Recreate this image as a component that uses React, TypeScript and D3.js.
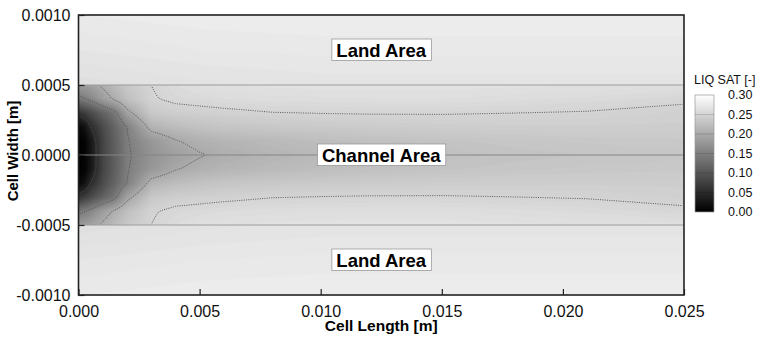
import { useEffect, useRef } from "react";
import * as d3 from "d3";

// liquid saturation, channel half (mirrored about y = 0)
const xKnots = [0, 0.00025, 0.0005, 0.001, 0.0015, 0.002, 0.003, 0.004, 0.005, 0.006, 0.008, 0.01, 0.012, 0.015, 0.018, 0.021, 0.025];
const yKnots = [0, 0.0001, 0.0002, 0.0003, 0.0004, 0.0005];
const channelSat = [
  [0.0, 0.004, 0.025, 0.08, 0.112, 0.145, 0.172, 0.188, 0.198, 0.205, 0.213, 0.218, 0.222, 0.226, 0.229, 0.231, 0.233],
  [0.0, 0.005, 0.026, 0.081, 0.113, 0.147, 0.178, 0.198, 0.208, 0.213, 0.219, 0.223, 0.226, 0.23, 0.233, 0.235, 0.236],
  [0.008, 0.02, 0.05, 0.088, 0.119, 0.15, 0.21, 0.222, 0.228, 0.232, 0.235, 0.237, 0.239, 0.241, 0.242, 0.242, 0.242],
  [0.06, 0.072, 0.088, 0.115, 0.14, 0.19, 0.235, 0.242, 0.244, 0.246, 0.2495, 0.2505, 0.251, 0.251, 0.25, 0.249, 0.245],
  [0.14, 0.148, 0.158, 0.185, 0.205, 0.225, 0.248, 0.254, 0.256, 0.258, 0.26, 0.26, 0.261, 0.261, 0.259, 0.257, 0.253],
  [0.18, 0.184, 0.19, 0.205, 0.22, 0.235, 0.25, 0.258, 0.262, 0.264, 0.265, 0.266, 0.266, 0.266, 0.265, 0.264, 0.262],
];

// land area (|y| from channel edge to cell edge)
const landXKnots = [0, 0.005, 0.01, 0.015, 0.02, 0.025];
const landYKnots = [0.0005, 0.00075, 0.001];
const landSat = [
  [0.262, 0.266, 0.268, 0.268, 0.268, 0.268],
  [0.27, 0.273, 0.274, 0.274, 0.274, 0.274],
  [0.276, 0.278, 0.279, 0.279, 0.279, 0.279],
];

const lineLevels = [0.05, 0.1, 0.15, 0.2, 0.25];
const xTicks = [0, 0.005, 0.01, 0.015, 0.02, 0.025];
const yTicks = [-0.001, -0.0005, 0, 0.0005, 0.001];
const legendTicks = [0, 0.05, 0.1, 0.15, 0.2, 0.25, 0.3];
const regionLabels = [
  { text: "Land Area", x: 0.0125, y: 0.00075 },
  { text: "Channel Area", x: 0.0125, y: 0 },
  { text: "Land Area", x: 0.0125, y: -0.00075 },
];

const FONT = "'Liberation Sans', Arial, sans-serif";

function sampler(xs: number[], ys: number[], grid: number[][]) {
  const ix = d3.scaleLinear().domain(xs).range(d3.range(xs.length)).clamp(true);
  const iy = d3.scaleLinear().domain(ys).range(d3.range(ys.length)).clamp(true);
  return (x: number, y: number) => {
    const fx = ix(x);
    const fy = iy(Math.abs(y));
    const i = Math.min(Math.floor(fx), xs.length - 2);
    const j = Math.min(Math.floor(fy), ys.length - 2);
    const tx = fx - i;
    const ty = fy - j;
    const a = grid[j][i] * (1 - tx) + grid[j][i + 1] * tx;
    const b = grid[j + 1][i] * (1 - tx) + grid[j + 1][i + 1] * tx;
    return a * (1 - ty) + b * ty;
  };
}

const App = () => {
  const svgRef = useRef<SVGSVGElement>(null);

  useEffect(() => {
    document.body.style.margin = "0";
    const svg = d3.select(svgRef.current);
    svg.selectAll("*").remove();

    const x = d3.scaleLinear().domain([0, 0.025]).range([78.5, 684]);
    const y = d3.scaleLinear().domain([-0.001, 0.001]).range([295, 15]);
    const gray = d3.scaleLinear<string>().domain([0, 0.3]).range(["#000", "#fff"]).clamp(true);
    const defs = svg.append("defs");

    const step = 0.003;
    const fillLevels = d3.range(step, 0.3, step);

    function drawField(id: string, f: (a: number, b: number) => number, y0: number, y1: number, withLines: boolean) {
      const left = x(0), right = x(0.025), top = y(y1), bottom = y(y0);
      const n = Math.round((right - left) / 2);
      const m = Math.round((bottom - top) / 2);
      const sx = (right - left) / n, sy = (bottom - top) / m;
      const values: number[] = new Array(n * m);
      for (let j = 0; j < m; j++) {
        for (let i = 0; i < n; i++) {
          values[j * n + i] = f(x.invert(left + (i + 0.5) * sx), y.invert(top + (j + 0.5) * sy));
        }
      }
      const path = d3.geoPath(
        d3.geoTransform({
          point(px: number, py: number) {
            this.stream.point(left + px * sx, top + py * sy);
          },
        })
      );

      defs.append("clipPath").attr("id", id)
        .append("rect").attr("x", left).attr("y", top).attr("width", right - left).attr("height", bottom - top);

      const g = svg.append("g").attr("clip-path", `url(#${id})`);
      g.append("rect")
        .attr("x", left).attr("y", top).attr("width", right - left).attr("height", bottom - top)
        .attr("fill", gray(d3.min(values) as number));
      g.selectAll("path.fill")
        .data(d3.contours().size([n, m]).thresholds(fillLevels)(values))
        .join("path")
        .attr("class", "fill")
        .attr("d", path as any)
        .attr("fill", (d) => gray(d.value + step / 2));

      if (withLines) {
        defs.append("clipPath").attr("id", id + "-in")
          .append("rect").attr("x", left + 1.5).attr("y", top + 1.5)
          .attr("width", right - left - 3).attr("height", bottom - top - 3);
        svg.append("g").attr("clip-path", `url(#${id}-in)`)
          .selectAll("path")
          .data(d3.contours().size([n, m]).thresholds(lineLevels)(values))
          .join("path")
          .attr("d", path as any)
          .attr("fill", "none")
          .attr("stroke", "#555")
          .attr("stroke-width", 1)
          .attr("stroke-dasharray", "1,1.3");
      }
    }

    const channel = sampler(xKnots, yKnots, channelSat);
    const land = sampler(landXKnots, landYKnots, landSat);
    drawField("land-top", land, 0.0005, 0.001, false);
    drawField("land-bottom", land, -0.001, -0.0005, false);
    drawField("channel", channel, -0.0005, 0.0005, true);

    // channel edges and center line
    svg.selectAll("line.edge")
      .data([-0.0005, 0.0005, 0])
      .join("line")
      .attr("x1", x(0)).attr("x2", x(0.025))
      .attr("y1", (d) => y(d)).attr("y2", (d) => y(d))
      .attr("stroke", (d) => (d === 0 ? "#858585" : "#9c9c9c"))
      .attr("stroke-width", 1);

    // region labels
    regionLabels.forEach((l) => {
      const g = svg.append("g");
      const t = g.append("text")
        .attr("x", x(l.x)).attr("y", y(l.y))
        .attr("text-anchor", "middle")
        .attr("dominant-baseline", "central")
        .attr("font-family", FONT)
        .attr("font-size", 18.5)
        .attr("font-weight", "bold")
        .text(l.text);
      const b = (t.node() as SVGTextElement).getBBox();
      g.insert("rect", "text")
        .attr("x", b.x - 4.5).attr("y", b.y - 0.5)
        .attr("width", b.width + 9).attr("height", b.height + 0.5)
        .attr("fill", "#fff")
        .attr("stroke", "#999")
        .attr("stroke-width", 0.8);
    });

    // axes
    const fmtY = (d: any) => d3.format(".4f")(d).replace("\u2212", "-");
    const xAxis = svg.append("g").attr("transform", `translate(0,${y(-0.001)})`);
    xAxis.call(d3.axisBottom(x).tickValues(d3.range(0, 0.0251, 0.001)).tickSize(-3).tickFormat(() => ""));
    xAxis.call(d3.axisBottom(x).tickValues(xTicks).tickSize(-6).tickPadding(11).tickFormat(d3.format(".3f")));
    const yAxis = svg.append("g").attr("transform", `translate(${x(0)},0)`);
    yAxis.call(d3.axisLeft(y).tickValues(d3.range(-0.001, 0.00101, 0.0001)).tickSize(-3).tickFormat(() => ""));
    yAxis.call(d3.axisLeft(y).tickValues(yTicks).tickSize(-6).tickPadding(8).tickFormat(fmtY));
    svg.selectAll(".domain").remove();
    svg.selectAll(".tick line").attr("stroke", "#222").attr("stroke-width", 1.2);
    svg.selectAll(".tick text").attr("font-family", FONT).attr("font-size", 16).attr("fill", "#111");

    svg.append("rect")
      .attr("x", x(0)).attr("y", y(0.001))
      .attr("width", x(0.025) - x(0)).attr("height", y(-0.001) - y(0.001))
      .attr("fill", "none")
      .attr("stroke", "#222")
      .attr("stroke-width", 1.6);

    svg.append("text")
      .attr("x", (x(0) + x(0.025)) / 2).attr("y", 331)
      .attr("text-anchor", "middle")
      .attr("font-family", FONT).attr("font-size", 15.5).attr("font-weight", "bold")
      .text("Cell Length [m]");
    svg.append("text")
      .attr("transform", `translate(18,151) rotate(-90)`)
      .attr("text-anchor", "middle")
      .attr("font-family", FONT).attr("font-size", 15).attr("font-weight", "bold")
      .text("Cell Width [m]");

    // colour bar
    const cb = d3.scaleLinear().domain([0, 0.3]).range([212, 95]);
    const grad = defs.append("linearGradient").attr("id", "cbGrad")
      .attr("x1", 0).attr("y1", 1).attr("x2", 0).attr("y2", 0);
    grad.append("stop").attr("offset", 0).attr("stop-color", gray(0));
    grad.append("stop").attr("offset", 1).attr("stop-color", gray(0.3));
    svg.append("rect")
      .attr("x", 695).attr("y", cb(0.3)).attr("width", 19).attr("height", cb(0) - cb(0.3))
      .attr("fill", "url(#cbGrad)")
      .attr("stroke", "#999").attr("stroke-width", 0.7);
    svg.selectAll("line.cb")
      .data(legendTicks.slice(1, -1))
      .join("line")
      .attr("x1", 695).attr("x2", 714)
      .attr("y1", (d) => cb(d)).attr("y2", (d) => cb(d))
      .attr("stroke", "rgba(0,0,0,0.18)").attr("stroke-width", 0.8);
    svg.selectAll("text.cb")
      .data(legendTicks)
      .join("text")
      .attr("x", 728).attr("y", (d) => cb(d))
      .attr("dy", "0.35em")
      .attr("font-family", FONT).attr("font-size", 12.5).attr("fill", "#111")
      .text((d) => d3.format(".2f")(d));
    svg.append("text")
      .attr("x", 694).attr("y", 84)
      .attr("font-family", FONT).attr("font-size", 12.5).attr("fill", "#111")
      .text("LIQ SAT [-]");
  }, []);

  return (
    <svg ref={svgRef} width={762} height={341} style={{ display: "block", background: "#fff" }} />
  );
};

export default App;
